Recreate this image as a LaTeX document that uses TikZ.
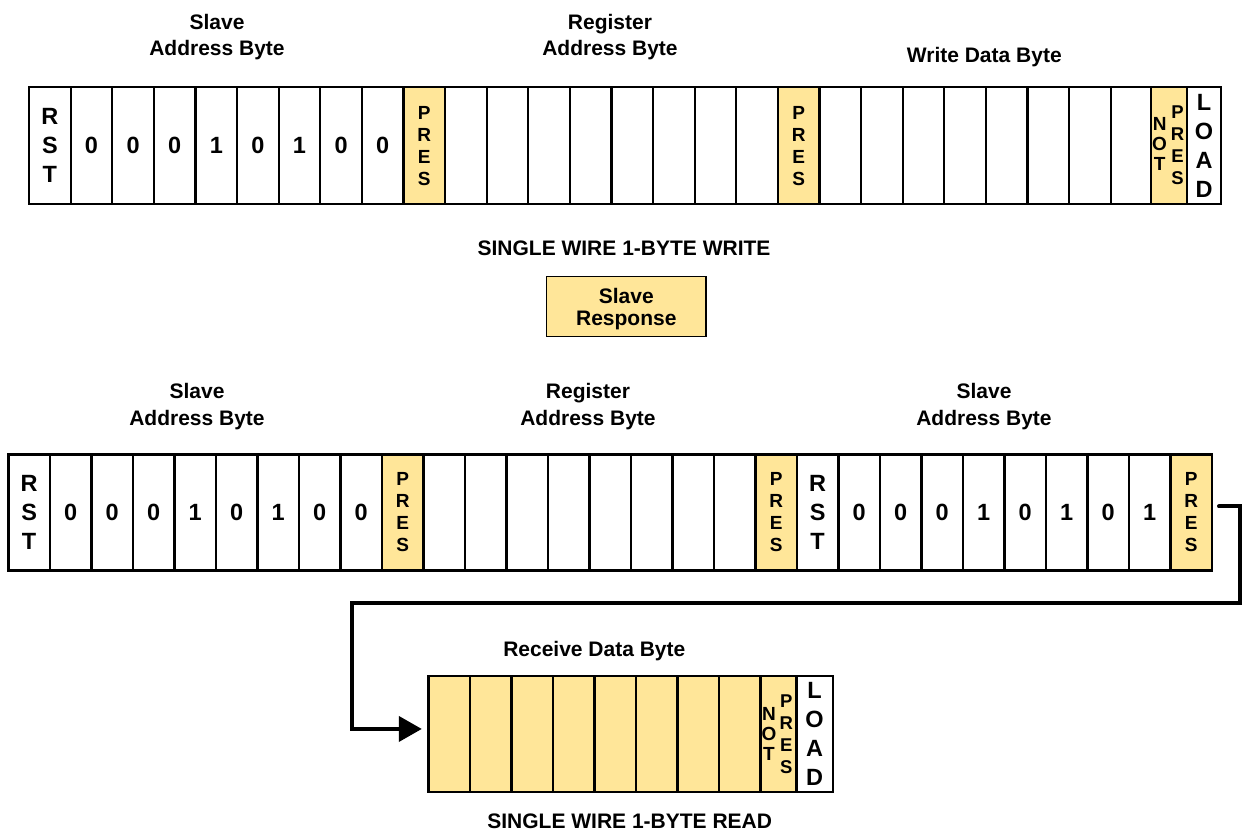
\documentclass[tikz,border=0pt]{standalone}
\usepackage{fontspec}
\setmainfont{Liberation Sans}
\usetikzlibrary{arrows.meta}
\definecolor{ylw}{HTML}{FFE699}
\begin{document}
\begin{tikzpicture}[x=1pt,y=-1pt,
  cellbox/.style={draw, line width=2.2pt, inner sep=0pt, anchor=north west, fill=white},
  rowa/.style={cellbox, minimum width=41.6pt, minimum height=117pt},
  rowb/.style={cellbox, minimum width=41.5pt, minimum height=116pt},
  rowc/.style={cellbox, minimum width=41.5pt, minimum height=115.7pt},
  rst/.style={align=center, font=\bfseries\fontsize{23.5}{29}\selectfont},
  dig/.style={font=\bfseries\fontsize{23.5}{26}\selectfont},
  pres/.style={fill=ylw, align=center, font=\bfseries\fontsize{19}{22}\selectfont},
  loadc/.style={align=center, font=\bfseries\fontsize{23.5}{29}\selectfont},
  nottxt/.style={inner sep=0pt, align=center, font=\bfseries\fontsize{19}{20}\selectfont},
  presn/.style={inner sep=0pt, align=center, font=\bfseries\fontsize{18.5}{22}\selectfont},
  lbl/.style={inner sep=0pt, align=center, font=\bfseries\fontsize{21}{26.5}\selectfont},
  conn/.style={line width=4pt, line cap=round, -{Triangle[length=23pt,width=25pt]}}
]
\useasboundingbox (0,0) rectangle (1243,832);

% ---------- top row: single wire 1-byte write ----------
\node[lbl] (la1) at (217,37.2) {Slave\\Address Byte};
\node[lbl] (la2) at (610,37.2) {Register\\Address Byte};
\node[lbl, anchor=base] (la3) at (984.3,63) {Write Data Byte};

\node[rowa, rst] (a0) at (28,86) {R\\S\\T};
\foreach \i/\d in {1/0,2/0,3/0,4/1,5/0,6/1,7/0,8/0}
  \node[rowa, dig] (a\i) at ({28+41.6*\i},86) {\d};
\foreach \i in {10,...,17}
  \node[rowa] (a\i) at ({28+41.6*\i},86) {};
\foreach \i in {19,...,26}
  \node[rowa] (a\i) at ({28+41.6*\i},86) {};
\foreach \i in {9,18}
  \node[rowa, pres] (a\i) at ({28+41.6*\i},86) {P\\R\\E\\S};
\node[cellbox, fill=ylw, minimum width=36pt, minimum height=117pt] (a27) at (1150,86) {};
\node[nottxt] (a27n) at ([xshift=-9.5pt,yshift=2pt]a27.center) {N\\O\\T};
\node[presn] (a27p) at ([xshift=8.5pt]a27.center) {P\\R\\E\\S};
\node[cellbox, loadc, minimum width=34pt, minimum height=117pt] (a28) at (1186,86) {L\\O\\A\\D};

\node[lbl, anchor=base] (ta) at (624,255.7) {SINGLE WIRE 1-BYTE WRITE};

\node[draw, line width=1.2pt, fill=ylw, minimum width=159.3pt, minimum height=60pt,
      inner sep=0pt] (resp) at (626.3,306.7) {};
\node[inner sep=0pt, align=center, font=\bfseries\fontsize{21}{22.5}\selectfont]
      (respt) at (626.3,309.2) {Slave\\Response};

% ---------- second row: read command ----------
\node[lbl] (lb1) at (197,406.5) {Slave\\Address Byte};
\node[lbl] (lb2) at (588,406.5) {Register\\Address Byte};
\node[lbl] (lb3) at (984,406.5) {Slave\\Address Byte};

\node[rowb, rst] (b0) at (7.3,453.3) {R\\S\\T};
\foreach \i/\d in {1/0,2/0,3/0,4/1,5/0,6/1,7/0,8/0}
  \node[rowb, dig] (b\i) at ({7.3+41.5*\i},453.3) {\d};
\foreach \i in {10,...,17}
  \node[rowb] (b\i) at ({7.3+41.5*\i},453.3) {};
\node[rowb, rst] (b19) at ({7.3+41.5*19},453.3) {R\\S\\T};
\foreach \i/\d in {20/0,21/0,22/0,23/1,24/0,25/1,26/0,27/1}
  \node[rowb, dig] (b\i) at ({7.3+41.5*\i},453.3) {\d};
\foreach \i in {9,18,28}
  \node[rowb, pres] (b\i) at ({7.3+41.5*\i},453.3) {P\\R\\E\\S};

% ---------- receive row ----------
\node[lbl, anchor=base] (lc) at (594.3,656) {Receive Data Byte};
\foreach \i in {0,...,7}
  \node[rowc, fill=ylw] (c\i) at ({427.3+41.5*\i},675) {};
\node[cellbox, fill=ylw, minimum width=36pt, minimum height=115.7pt] (c8) at (759.3,675) {};
\node[nottxt] (c8n) at ([xshift=-9.5pt]c8.center) {N\\O\\T};
\node[presn] (c8p) at ([xshift=8pt]c8.center) {P\\R\\E\\S};
\node[cellbox, loadc, minimum width=36.4pt, minimum height=115.7pt] (c9) at (795.3,675) {L\\O\\A\\D};

\node[lbl, anchor=base] (tb) at (629.7,828) {SINGLE WIRE 1-BYTE READ};

% ---------- connector ----------
\coordinate (cA) at ([xshift=6pt,yshift=6pt]b28.east);
\coordinate (cB) at ([xshift=-5.5pt,yshift=5pt]c0.west);
\coordinate (k2) at (1240,603.3);
\coordinate (k3) at (351.7,603.3);
\draw[conn] (cA) -| (k2) -- (k3) |- (cB);
\end{tikzpicture}
\end{document}
